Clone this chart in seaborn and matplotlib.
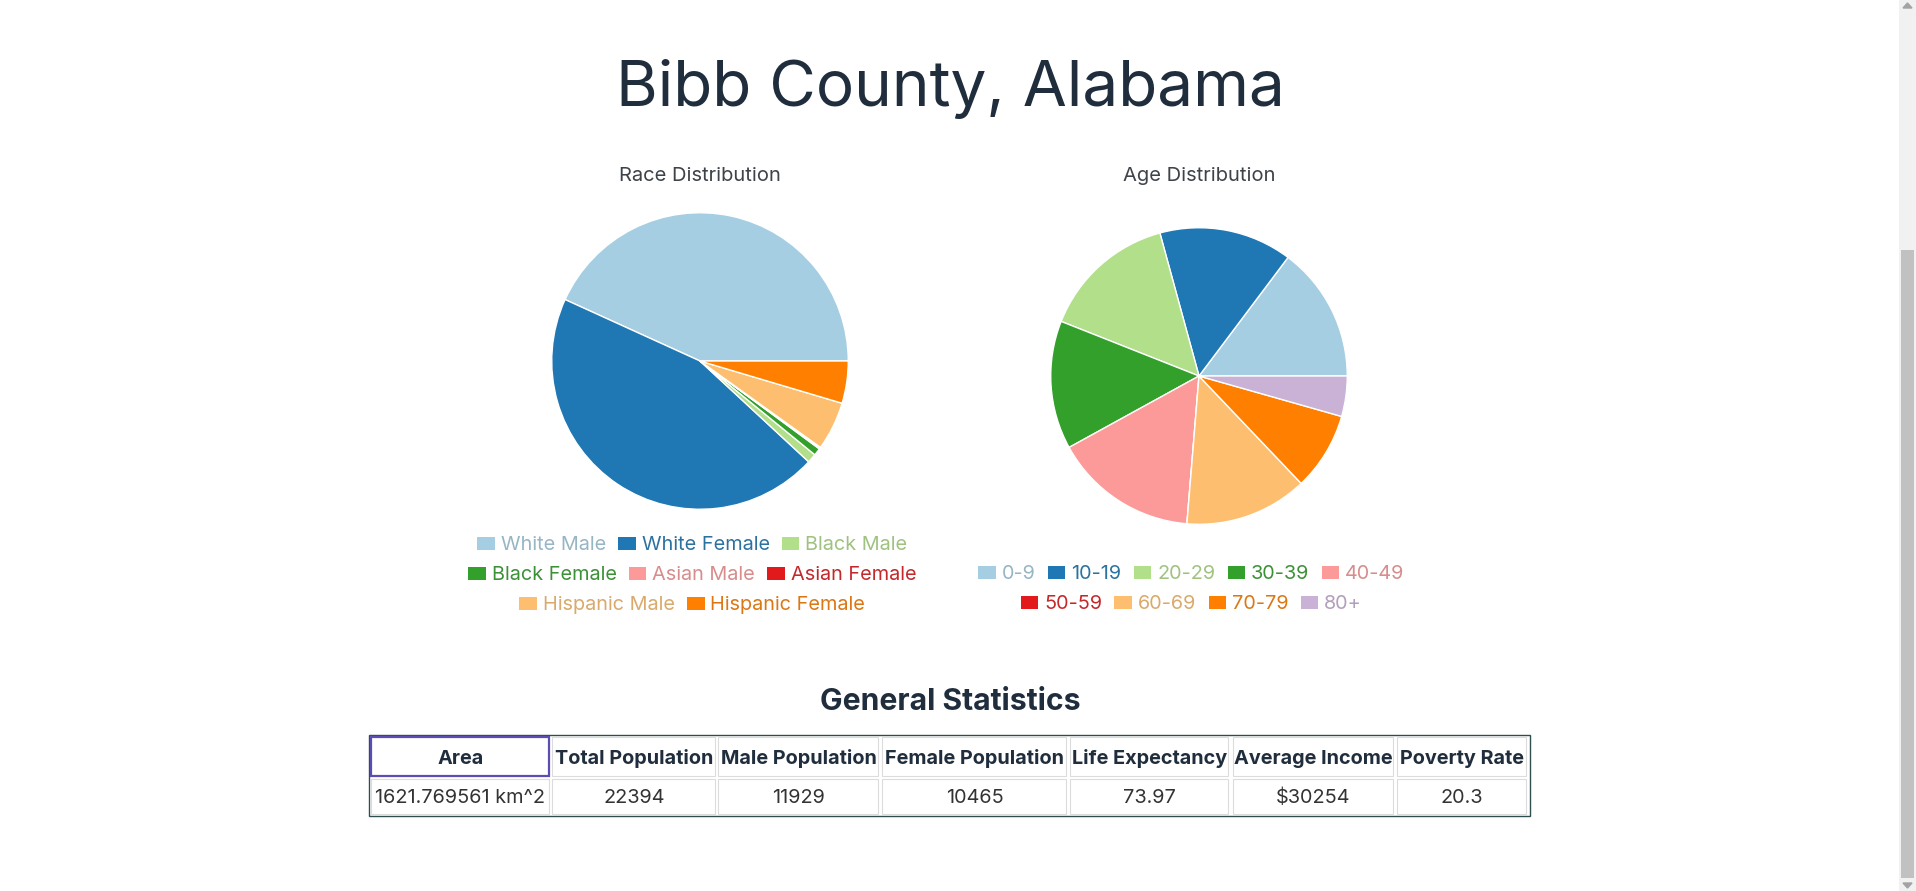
import matplotlib
matplotlib.use("Agg")
import matplotlib.pyplot as plt
from matplotlib.patches import Rectangle, Polygon
import seaborn as sns

# page data
county_title = "Bibb County, Alabama"

race_labels = ["White Male", "White Female", "Black Male", "Black Female",
               "Asian Male", "Asian Female", "Hispanic Male", "Hispanic Female"]
race_values = [43.2, 44.9, 1.0, 0.8, 0.1, 0.1, 5.3, 4.6]

age_labels = ["0-9", "10-19", "20-29", "30-39", "40-49",
              "50-59", "60-69", "70-79", "80+"]
age_values = [14.75, 14.5, 14.75, 14.0, 15.7, 0.0, 13.4, 8.5, 4.4]

stat_headers = ["Area", "Total Population", "Male Population", "Female Population",
                "Life Expectancy", "Average Income", "Poverty Rate"]
stat_values = ["1621.769561 km^2", "22394", "11929", "10465",
               "73.97", r"\$30254", "20.3"]

W, H = 1916, 891
NAVY = "#1f2d3d"


def muted(c, k=0.22):
    # legend label text looks a bit greyer than the swatch
    return tuple((1 - k) * v + k * 0.36 for v in c)


def main():
    sns.set_theme(style="white")
    plt.rcParams["font.family"] = ["Inter", "DejaVu Sans"]
    colors = sns.color_palette("Paired", 9)

    fig = plt.figure(figsize=(W / 100, H / 100), dpi=100)
    fig.patch.set_facecolor("white")

    # overlay in pixel coordinates for page text / table
    bg = fig.add_axes([0, 0, 1, 1], zorder=0)
    bg.set_xlim(0, W)
    bg.set_ylim(H, 0)
    bg.axis("off")

    bg.text(950, 106, county_title, ha="center", va="baseline",
            fontsize=46, color=NAVY)

    def pie_block(values, labels, cx, cy, r, title, rows, row_y):
        ax = fig.add_axes([(cx - r) / W, 1 - (cy + r) / H, 2 * r / W, 2 * r / H], zorder=2)
        wedges, _ = ax.pie(values, colors=colors[:len(values)], startangle=0,
                           counterclock=True,
                           wedgeprops=dict(edgecolor="white", linewidth=1.0))
        ax.set_xlim(-1.005, 1.005)
        ax.set_ylim(-1.005, 1.005)
        ax.set_aspect("equal")
        ax.axis("off")
        bg.text(cx, 181, title, ha="center", va="baseline", fontsize=14.5, color="#3d4349")
        for (i0, i1), y in zip(rows, row_y):
            leg = fig.legend(wedges[i0:i1], labels[i0:i1], ncol=i1 - i0, loc="center",
                             bbox_to_anchor=(cx / W - 0.004, 1 - y / H), frameon=False,
                             fontsize=14.3, handlelength=0.88, handleheight=0.63,
                             handletextpad=0.3, columnspacing=0.62, borderpad=0)
            for t, c in zip(leg.get_texts(), colors[i0:i1]):
                t.set_color(muted(c))
            for h in leg.legend_handles:
                h.set_edgecolor("none")

    pie_block(race_values, race_labels, 700, 361, 149, "Race Distribution",
              [(0, 3), (3, 6), (6, 8)], [545, 575, 605])
    pie_block(age_values, age_labels, 1199, 376, 149, "Age Distribution",
              [(0, 5), (5, 9)], [574, 604])

    # General statistics table
    bg.text(950, 710, "General Statistics", ha="center", va="baseline",
            fontsize=21.7, fontweight="bold", color=NAVY)
    bg.add_patch(Rectangle((369, 734.5), 1161, 81.5, fill=False,
                           edgecolor="#2f4f4f", linewidth=1.0))
    col_left = [371, 552, 718, 882, 1070, 1233, 1397]
    col_right = [550, 716, 879, 1067, 1229, 1394, 1527]
    for i, (x0, x1) in enumerate(zip(col_left, col_right)):
        ec = "#5b4db3" if i == 0 else "#dcdcdc"
        lw = 1.6 if i == 0 else 0.8
        bg.add_patch(Rectangle((x0 + 0.5, 737), x1 - x0 - 1, 39, fill=False,
                               edgecolor=ec, linewidth=lw))
        bg.add_patch(Rectangle((x0 + 0.5, 779), x1 - x0 - 1, 35, fill=False,
                               edgecolor="#dcdcdc", linewidth=0.8))
        xc = (x0 + x1) / 2
        bg.text(xc, 758.5, stat_headers[i], ha="center", va="center",
                fontsize=14.3, fontweight="bold", color=NAVY)
        bg.text(xc, 798, stat_values[i], ha="center", va="center",
                fontsize=14.3, color="#333333")

    # browser scrollbar
    bg.add_patch(Rectangle((1899, 0), 17, H, color="#f1f1f1", linewidth=0))
    bg.add_patch(Rectangle((1901, 250), 13, 628, color="#c1c1c1", linewidth=0))
    bg.add_patch(Polygon([(1903, 8), (1912, 8), (1907.5, 3)], color="#a3a3a3"))
    bg.add_patch(Polygon([(1903, 883), (1912, 883), (1907.5, 888)], color="#a3a3a3"))

    fig.savefig("out.png", dpi=100, facecolor="white")


if __name__ == "__main__":
    main()
